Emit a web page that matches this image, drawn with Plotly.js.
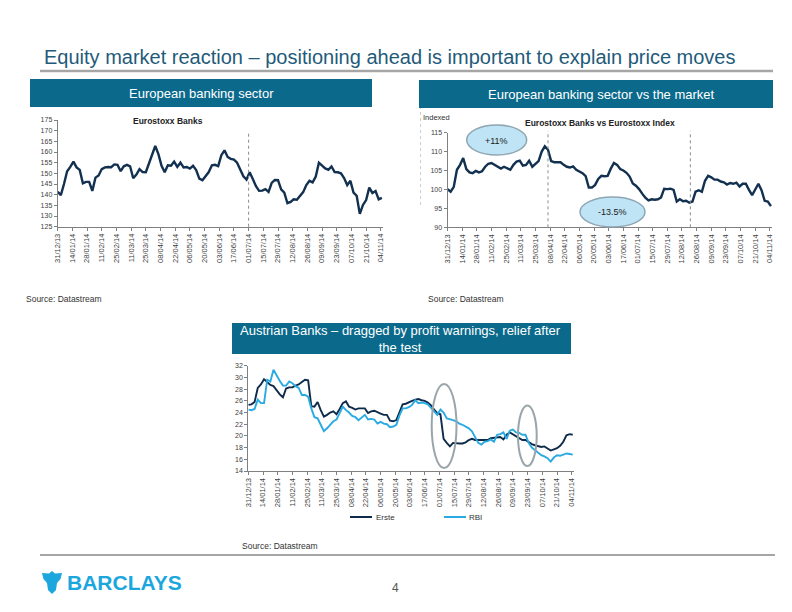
<!DOCTYPE html>
<html><head><meta charset="utf-8">
<script src="https://cdn.plot.ly/plotly-3.0.1.min.js"></script>
<style>html,body{margin:0;padding:0;background:#fff;}#chart{width:792px;height:612px;}</style>
</head><body><div id="chart"></div>
<script>
// Shared date grid (every 3 calendar days, 31/12/13 .. 05/11/14)
const dates = ["2013-12-31","2014-01-03","2014-01-06","2014-01-09","2014-01-12","2014-01-15","2014-01-18","2014-01-21","2014-01-24","2014-01-27",
"2014-01-30","2014-02-02","2014-02-05","2014-02-08","2014-02-11","2014-02-14","2014-02-17","2014-02-20","2014-02-23","2014-02-26",
"2014-03-01","2014-03-04","2014-03-07","2014-03-10","2014-03-13","2014-03-16","2014-03-19","2014-03-22","2014-03-25","2014-03-28",
"2014-03-31","2014-04-03","2014-04-06","2014-04-09","2014-04-12","2014-04-15","2014-04-18","2014-04-21","2014-04-24","2014-04-27",
"2014-04-30","2014-05-03","2014-05-06","2014-05-09","2014-05-12","2014-05-15","2014-05-18","2014-05-21","2014-05-24","2014-05-27",
"2014-05-30","2014-06-02","2014-06-05","2014-06-08","2014-06-11","2014-06-14","2014-06-17","2014-06-20","2014-06-23","2014-06-26",
"2014-06-29","2014-07-02","2014-07-05","2014-07-08","2014-07-11","2014-07-14","2014-07-17","2014-07-20","2014-07-23","2014-07-26",
"2014-07-29","2014-08-01","2014-08-04","2014-08-07","2014-08-10","2014-08-13","2014-08-16","2014-08-19","2014-08-22","2014-08-25",
"2014-08-28","2014-08-31","2014-09-03","2014-09-06","2014-09-09","2014-09-12","2014-09-15","2014-09-18","2014-09-21","2014-09-24",
"2014-09-27","2014-09-30","2014-10-03","2014-10-06","2014-10-09","2014-10-12","2014-10-15","2014-10-18","2014-10-21","2014-10-24",
"2014-10-27","2014-10-30","2014-11-02","2014-11-05"];

// Eurostoxx Banks
const eurostoxxBanks = [141.4,139.8,145,151,153,155.5,152.8,151.6,145.3,146,
146,141.8,148,149,152,152.8,153,152.9,154.2,154,
151,153.3,154,153.3,147.7,149.4,152,150.6,150.5,154.5,
158.5,162.8,159,153.5,150.5,153.8,153.6,155.5,153,155,
152.8,153,152.2,153.5,151.5,147.5,146.8,149,150.6,153.8,
154,153.4,158.5,160.8,157.7,156.8,156.4,155,152,148.6,
147.1,150.5,147.3,144,141.8,141.9,142.6,141.3,145.5,146.9,
146.8,142.5,141,136,136.6,137.8,137.6,139.2,141.2,144.5,
146.5,145.8,148.5,155,153.8,152.3,151.7,153.2,150.6,150.5,
150,147.8,144.5,146.5,141,139.5,131,135.2,137.5,143.3,
140.8,141.7,137.8,138.5];

// Eurostoxx Banks vs Eurostoxx Index (indexed)
const banksVsIndex = [100.1,99.4,100.7,105.2,106.5,108.3,105.4,104.5,104.3,104.9,
104.5,104.8,106,106.8,107,106.5,106,105.5,106,105.6,
105.2,106.5,107.4,107.6,106.3,106.5,107.6,106,106.8,107.5,
110,111.4,110.5,107.5,107.2,107.1,107.2,106.5,106,105.8,
106.1,105.2,104.8,104.3,103.5,100.5,100.5,101.2,102.8,103.6,
103.5,103.6,105.5,107,106.5,105.4,105,104.4,103.4,101.6,
101,100.1,98.9,97.8,97.1,97.4,97.3,97.4,97.9,100.2,
100.1,100.2,99.9,96.8,97.4,96.9,97,96.5,96.8,99.4,
99.8,99.4,102.3,103.6,103.2,102.6,102.6,102.1,101.9,101.3,
101.7,101.5,101.8,100.8,101.5,101.5,99.9,98.5,100,101.5,
99.8,97,96.8,95.6];

// Austrian banks
const erste = [25.3,25.4,25.8,28.2,28.8,29.7,29.2,28.7,28.5,27.7,
27.1,26.6,28.1,28.3,28.3,28.6,28.8,29.2,29.6,29.5,
25.1,25,25.8,24.4,23.3,23.6,24,24.2,23.7,24.6,
25.6,25.9,25,24.8,24.5,24.7,24.7,24.7,23.9,24.2,
24.3,24,23.8,23.6,23.6,22.6,22.5,22.7,24.1,25.4,
25.5,25.8,26,26.2,26.3,26.1,26,25.7,25.2,24.5,
23.9,23.7,19.5,18.8,18.2,18.8,18.7,18.7,18.7,18.9,
19.3,19.5,19.3,19.3,19.2,19.3,19.3,19.6,19.7,19.8,
19.8,19.4,20.2,20.6,20.3,20,19.6,19.3,19.3,18.9,
18.6,18.4,18.2,18.1,18.2,17.9,17.5,17.7,17.9,18.3,
19,20.1,20.3,20.2];
const rbi = [24.5,24.4,24.6,26.2,25.6,25.6,29.6,29.3,31.3,30.3,
29.4,28.6,28.6,29.3,29,28.5,28.2,27,27,26.7,
24.7,23.2,23,21.9,20.8,21.3,22,22.5,22.8,24,
25,24.4,24,23.4,23.2,22.7,23.2,23.6,22.8,22.9,
22.8,22.1,22.4,22.1,22,21.5,21.6,21.9,23.5,24.7,
24.7,24.9,25.3,26.1,25.6,25.7,25.6,25.4,24.8,24.1,
23.6,24.5,24,23,22.9,22.7,22.5,22.1,21.9,21.6,
21.3,20.8,19.7,18.8,18.5,19,19.1,19.4,19,20.2,
20.3,20.6,19.5,20.9,21.1,20.6,20.5,20.2,20.2,18.8,
18,17.6,17.1,16.7,16.5,16.2,15.6,16.3,16.7,16.6,
16.8,17,16.9,16.8];

const W = 792, H = 612;
const px = x => x / W, py = y => 1 - y / H;
const FONT = 'Liberation Sans, Arial, sans-serif';
const NAVY = '#12304f', SKY = '#2aaae2', BOX = '#0b6a8c', AXC = '#808080';

const xBase = {
  type: 'date', range: ['2013-12-31', '2014-11-06'], tick0: '2013-12-31', dtick: 14 * 86400000,
  tickformat: '%d/%m/%y', tickangle: -90, tickfont: {size: 7.5, color: '#404040', family: FONT},
  showline: true, linecolor: AXC, linewidth: 1, ticks: 'outside', ticklen: 3, tickcolor: AXC,
  showgrid: false, zeroline: false
};
const yBase = {
  tickfont: {size: 7, color: '#404040', family: FONT}, showline: true, linecolor: AXC, linewidth: 1,
  ticks: 'outside', ticklen: 3, tickcolor: AXC, showgrid: false, zeroline: false
};

const traces = [
  {x: dates, y: eurostoxxBanks, xaxis: 'x', yaxis: 'y', mode: 'lines', line: {color: NAVY, width: 2.4}, name: 'Eurostoxx Banks'},
  {x: dates, y: banksVsIndex, xaxis: 'x2', yaxis: 'y2', mode: 'lines', line: {color: NAVY, width: 2.4}, name: 'Banks vs Index'},
  {x: dates, y: erste, xaxis: 'x3', yaxis: 'y3', mode: 'lines', line: {color: '#0f2b4a', width: 1.9}, name: 'Erste'},
  {x: dates, y: rbi, xaxis: 'x3', yaxis: 'y3', mode: 'lines', line: {color: SKY, width: 1.9}, name: 'RBI'}
];

function ann(text, x, y, opts) {
  return Object.assign({text: text, x: px(x), y: py(y), xref: 'paper', yref: 'paper', showarrow: false,
    xanchor: 'center', yanchor: 'middle', font: {family: FONT, size: 8, color: '#222'}}, opts || {});
}
function rect(x0, y0, x1, y1, fill) {
  return {type: 'rect', xref: 'paper', yref: 'paper', x0: px(x0), x1: px(x1), y0: py(y1), y1: py(y0), fillcolor: fill, line: {width: 0}, layer: 'below'};
}
function hline(x0, x1, y, color, w) {
  return {type: 'line', xref: 'paper', yref: 'paper', x0: px(x0), x1: px(x1), y0: py(y), y1: py(y), line: {color: color, width: w}};
}
function ellipse(x0, y0, x1, y1, fill, lc, lw) {
  return {type: 'circle', xref: 'paper', yref: 'paper', x0: px(x0), x1: px(x1), y0: py(y1), y1: py(y0), fillcolor: fill, line: {color: lc, width: lw}, layer: 'above'};
}
function polyPath(pts) {
  return 'M ' + pts.map(p => px(p[0]).toFixed(5) + ',' + py(p[1]).toFixed(5)).join(' L ') + ' Z';
}

const shapes = [
  hline(40, 773, 71, '#a6a6a6', 2.5),
  hline(40, 775, 555, '#a6a6a6', 2),
  rect(30, 79, 372, 107, BOX),
  rect(419, 80, 773, 108, BOX),
  rect(232, 323, 571, 354, BOX),
  {type: 'line', xref: 'paper', yref: 'paper', x0: px(420.5), x1: px(420.5), y0: py(205), y1: py(108), line: {color: '#cfcfcf', width: 1, dash: 'dot'}},
  {type: 'line', xref: 'x', yref: 'paper', x0: '2014-07-01', x1: '2014-07-01', y0: py(226.7), y1: py(133), line: {color: '#8c8c8c', width: 1, dash: 'dot'}},
  {type: 'line', xref: 'x2', yref: 'paper', x0: '2014-04-06', x1: '2014-04-06', y0: py(227.3), y1: py(131), line: {color: '#8c8c8c', width: 1, dash: 'dot'}},
  {type: 'line', xref: 'x2', yref: 'paper', x0: '2014-08-20', x1: '2014-08-20', y0: py(227.3), y1: py(131), line: {color: '#8c8c8c', width: 1, dash: 'dot'}},
  ellipse(466.7, 125, 526.7, 155, '#bfe4f5', '#8ea6b4', 1.5),
  ellipse(580, 197, 645, 227, '#bfe4f5', '#8ea6b4', 1.5),
  ellipse(431.7, 384, 456.5, 468, 'rgba(0,0,0,0)', '#9aa5aa', 2),
  ellipse(518, 405.5, 536.7, 466, 'rgba(0,0,0,0)', '#9aa5aa', 2),
  // legend samples (chart 3)
  hline(350, 372, 517, '#0f2b4a', 2),
  hline(444, 466, 517, SKY, 2),
  // Barclays eagle (simplified)
  {type: 'path', xref: 'paper', yref: 'paper', fillcolor: '#1ba6de', line: {width: 0},
   path: polyPath([[52,571],[55,573.5],[62,573],[60.5,579],[57,583],[56,590],[52,594],[48,590],[47,583],[43.5,579],[42,573],[49,573.5]])}
];

const annotations = [
  ann('Equity market reaction \u2013 positioning ahead is important to explain price moves', 42, 57,
      {xanchor: 'left', font: {family: FONT, size: 20, color: '#1f5b7a'}}),
  ann('European banking sector', 201, 93, {font: {family: FONT, size: 13, color: '#ffffff'}}),
  ann('European banking sector vs the market', 601, 94, {font: {family: FONT, size: 13, color: '#ffffff'}}),
  ann('Austrian Banks \u2013 dragged by profit warnings, relief after<br>the test', 401, 338.5,
      {font: {family: FONT, size: 13, color: '#ffffff'}}),
  ann('<b>Eurostoxx Banks</b>', 168, 121, {font: {family: FONT, size: 8.5, color: '#222'}}),
  ann('Indexed', 421, 118, {xanchor: 'left', font: {family: FONT, size: 7.5, color: '#333'}}),
  ann('<b>Eurostoxx Banks vs Eurostoxx Index</b>', 600, 123, {font: {family: FONT, size: 8.5, color: '#222'}}),
  ann('+11%', 497, 141, {font: {family: FONT, size: 9, color: '#1a1a1a'}}),
  ann('-13.5%', 612.5, 212, {font: {family: FONT, size: 9, color: '#1a1a1a'}}),
  ann('Source: Datastream', 24, 299, {xanchor: 'left', font: {family: FONT, size: 8.5, color: '#333'}}),
  ann('Source: Datastream', 426, 299, {xanchor: 'left', font: {family: FONT, size: 8.5, color: '#333'}}),
  ann('Source: Datastream', 240, 546, {xanchor: 'left', font: {family: FONT, size: 8.5, color: '#333'}}),
  ann('Erste', 374, 517, {xanchor: 'left', font: {family: FONT, size: 8, color: '#333'}}),
  ann('RBI', 467, 517, {xanchor: 'left', font: {family: FONT, size: 8, color: '#333'}}),
  ann('<b>BARCLAYS</b>', 65, 582, {xanchor: 'left', font: {family: FONT, size: 21, color: '#1ba6de'}}),
  ann('4', 395, 588, {font: {family: FONT, size: 12, color: '#555'}})
];

const layout = {
  width: W, height: H, margin: {l: 0, r: 0, t: 0, b: 0}, showlegend: false,
  paper_bgcolor: '#ffffff', plot_bgcolor: 'rgba(0,0,0,0)', font: {family: FONT},
  xaxis: Object.assign({}, xBase, {domain: [px(57.7), px(382.9)], anchor: 'y'}),
  yaxis: Object.assign({}, yBase, {domain: [py(226.7), py(120)], range: [125, 175], dtick: 5, anchor: 'x'}),
  xaxis2: Object.assign({}, xBase, {domain: [px(447.5), px(772)], anchor: 'y2'}),
  yaxis2: Object.assign({}, yBase, {domain: [py(227.3), py(132.7)], range: [90, 115], dtick: 5, anchor: 'x2'}),
  xaxis3: Object.assign({}, xBase, {domain: [px(248.3), px(573.8)], anchor: 'y3'}),
  yaxis3: Object.assign({}, yBase, {domain: [py(471), py(365.7)], range: [14, 32], dtick: 2, anchor: 'x3'}),
  shapes: shapes, annotations: annotations
};

Plotly.newPlot('chart', traces, layout, {staticPlot: true, displayModeBar: false});
</script>
</body></html>
